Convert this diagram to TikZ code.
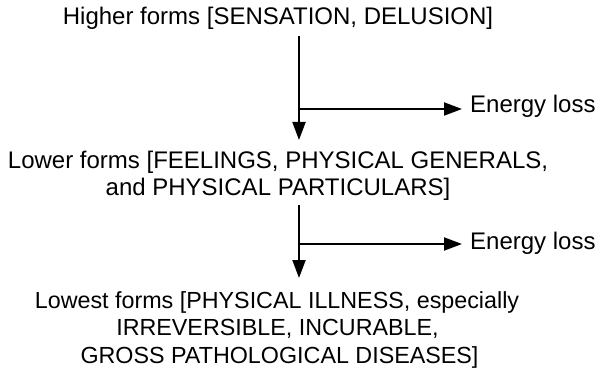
\documentclass[tikz,border=0pt]{standalone}
\usepackage{fontspec}
\setmainfont{Liberation Sans}
\usetikzlibrary{arrows.meta}
\begin{document}
\begin{tikzpicture}[x=1pt,y=-1pt,
  lbl/.style={font=\fontsize{24}{28}\selectfont, inner sep=0pt, anchor=base},
  lblsm/.style={lbl, font=\fontsize{23.3}{28}\selectfont},
  conn/.style={line width=2pt, -{Triangle[length=18pt,width=13pt]}}]
\useasboundingbox (0,0) rectangle (600,377);
\node[lbl] (higher) at (278,25) {Higher forms [SENSATION, DELUSION]};
\node[lbl] (lowerA) at (278,168) {Lower forms [FEELINGS, PHYSICAL GENERALS,};
\node[lbl] (lowerB) at (278,195.5) {and PHYSICAL PARTICULARS]};
\node[lblsm] (lowestA) at (277,308) {Lowest forms [PHYSICAL ILLNESS, especially};
\node[lblsm] (lowestB) at (277.5,335.5) {IRREVERSIBLE, INCURABLE,};
\node[lblsm] (lowestC) at (279.5,363) {GROSS PATHOLOGICAL DISEASES]};
\node[lbl, anchor=base west] (loss1) at (470,113) {Energy loss};
\node[lbl, anchor=base west] (loss2) at (470,249) {Energy loss};
\coordinate (a1s) at (299,36);
\coordinate (a1e) at (299,140);
\coordinate (b1) at (299,109);
\coordinate (b1e) at (462,109);
\coordinate (a2s) at (299,205);
\coordinate (a2e) at (299,278);
\coordinate (b2) at (299,244);
\coordinate (b2e) at (462,244);
\draw[conn] (a1s) -- (a1e);
\draw[conn] (b1) -- (b1e);
\draw[conn] (a2s) -- (a2e);
\draw[conn] (b2) -- (b2e);
\end{tikzpicture}
\end{document}
